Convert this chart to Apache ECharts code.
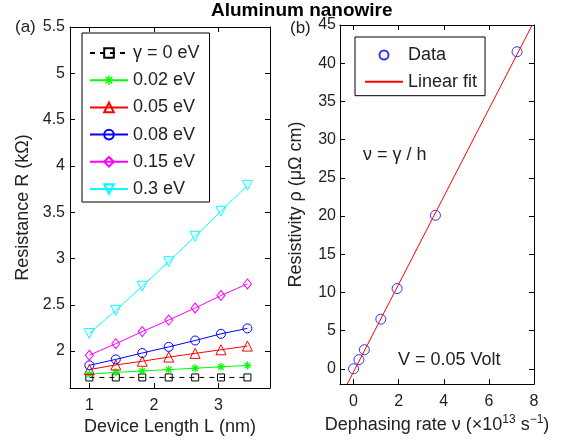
<!DOCTYPE html>
<html><head><meta charset="utf-8">
<script src="https://cdn.jsdelivr.net/npm/echarts@6/dist/echarts.min.js"></script>
<style>html,body{margin:0;padding:0;background:#fff}#c{width:572px;height:441px}</style>
</head><body><div id="c"></div>
<script>
// ---- Data (a) ----
const lengthL = [1.0, 1.41, 1.82, 2.23, 2.64, 3.04, 3.45];
const rGamma0 = [1.715, 1.715, 1.715, 1.715, 1.715, 1.715, 1.715];
const rGamma002 = [1.75, 1.77, 1.785, 1.80, 1.815, 1.83, 1.845];
const rGamma005 = [1.80, 1.85, 1.89, 1.935, 1.975, 2.014, 2.054];
const rGamma008 = [1.846, 1.91, 1.979, 2.045, 2.114, 2.186, 2.245];
const rGamma015 = [1.955, 2.08, 2.21, 2.335, 2.465, 2.60, 2.725];
const rGamma03 = [2.19, 2.44, 2.70, 2.965, 3.24, 3.51, 3.79];
const legendNamesA = ['\u03b3 = 0 eV', '0.02 eV', '0.05 eV', '0.08 eV', '0.15 eV', '0.3 eV'];
const xTicksA = [1, 2, 3];
const yTicksA = [2, 2.5, 3, 3.5, 4, 4.5, 5, 5.5];
// ---- Data (b) ----
const dephasingNu = [0, 0.24, 0.48, 1.21, 1.93, 3.63, 7.25];
const resistivity = [0, 1.2, 2.5, 6.5, 10.5, 20.1, 41.5];
const fitNu = [-0.28, 7.92];
const fitRho = [-2, 45];
const xTicksB = [0, 2, 4, 6, 8];
const yTicksB = [0, 5, 10, 15, 20, 25, 30, 35, 40, 45];

const FONT = 'Liberation Sans';
const TXT = '#222';
const asterisk = 'path://M8.5,0L11.5,0L11.5,20L8.5,20Z M0,8.5L20,8.5L20,11.5L0,11.5Z M3.99,1.87L18.13,16.01L16.01,18.13L1.87,3.99Z M16.01,1.87L18.13,3.99L3.99,18.13L1.87,16.01Z';

function pairs(xs, ys) { return xs.map((x, i) => [x, ys[i]]); }

function axisBase(extra) {
  return Object.assign({
    type: 'value',
    axisLine: { show: true, onZero: false, lineStyle: { color: '#000', width: 1 } },
    axisTick: { show: true, inside: true, length: 5, lineStyle: { color: '#000' } },
    splitLine: { show: false },
    axisLabel: { show: true, color: TXT, fontSize: 16, fontFamily: FONT }
  }, extra);
}

function lineSeries(name, ys, color, symbol, size, dashed, rotate) {
  const filled = symbol === asterisk;
  return {
    name: name, type: 'line', xAxisIndex: 0, yAxisIndex: 0,
    data: pairs(lengthL, ys),
    symbol: symbol, symbolSize: size, symbolRotate: rotate || 0,
    showAllSymbol: true,
    lineStyle: { color: color, width: 1, type: dashed ? [5, 5] : 'solid' },
    itemStyle: filled ? { color: color } : { color: 'rgba(0,0,0,0)', borderColor: color, borderWidth: 1 },
    emphasis: { disabled: true },
    animation: false
  };
}

const chart = echarts.init(document.getElementById('c'), null, { renderer: 'canvas' });
const option = {
  animation: false,
  textStyle: { fontFamily: FONT },
  grid: [
    { left: 70, top: 27, width: 200, height: 363 },
    { left: 340, top: 25, width: 194, height: 362 }
  ],
  xAxis: [
    axisBase({ gridIndex: 0, min: 0.7, max: 3.8, position: 'bottom',
      axisTick: { show: true, inside: true, length: 5, customValues: xTicksA, lineStyle: { color: '#000' } },
      axisLabel: { show: true, customValues: xTicksA, margin: 9, color: TXT, fontSize: 16, fontFamily: FONT },
      name: 'Device Length L (nm)', nameLocation: 'middle', nameGap: 26,
      nameTextStyle: { fontSize: 18, color: TXT, fontFamily: FONT } }),
    axisBase({ gridIndex: 0, min: 0.7, max: 3.8, position: 'top',
      axisTick: { show: true, inside: true, length: 5, customValues: xTicksA, lineStyle: { color: '#000' } },
      axisLabel: { show: false } }),
    axisBase({ gridIndex: 1, min: -0.6, max: 8, position: 'bottom',
      axisTick: { show: true, inside: true, length: 5, customValues: xTicksB, lineStyle: { color: '#000' } },
      axisLabel: { show: true, customValues: xTicksB, margin: 9, color: TXT, fontSize: 16, fontFamily: FONT },
      name: 'Dephasing rate \u03bd (\u00d710{sup|13} s{sup|\u22121})', nameLocation: 'middle', nameGap: 27,
      nameTextStyle: { fontSize: 18, color: TXT, fontFamily: FONT, lineHeight: 22,
        rich: { sup: { fontSize: 12, lineHeight: 12, verticalAlign: 'top', color: TXT, fontFamily: FONT } } } }),
    axisBase({ gridIndex: 1, min: -0.6, max: 8, position: 'top',
      axisTick: { show: true, inside: true, length: 5, customValues: xTicksB, lineStyle: { color: '#000' } },
      axisLabel: { show: false } })
  ],
  yAxis: [
    axisBase({ gridIndex: 0, min: 1.6, max: 5.5, position: 'left',
      axisTick: { show: true, inside: true, length: 5, customValues: yTicksA, lineStyle: { color: '#000' } },
      axisLabel: { show: true, customValues: yTicksA, margin: 5, color: TXT, fontSize: 16, fontFamily: FONT },
      name: 'Resistance R (k\u03a9)', nameLocation: 'middle', nameGap: 38, nameRotate: 90,
      nameTextStyle: { fontSize: 18, color: TXT, fontFamily: FONT } }),
    axisBase({ gridIndex: 0, min: 1.6, max: 5.5, position: 'right',
      axisTick: { show: true, inside: true, length: 5, customValues: yTicksA, lineStyle: { color: '#000' } },
      axisLabel: { show: false } }),
    axisBase({ gridIndex: 1, min: -2, max: 45, position: 'left',
      axisTick: { show: true, inside: true, length: 5, customValues: yTicksB, lineStyle: { color: '#000' } },
      axisLabel: { show: true, customValues: yTicksB, margin: 4, color: TXT, fontSize: 16, fontFamily: FONT },
      name: 'Resistivity \u03c1 (\u03bc\u03a9 cm)', nameLocation: 'middle', nameGap: 35, nameRotate: 90,
      nameTextStyle: { fontSize: 18, color: TXT, fontFamily: FONT } }),
    axisBase({ gridIndex: 1, min: -2, max: 45, position: 'right',
      axisTick: { show: true, inside: true, length: 5, customValues: yTicksB, lineStyle: { color: '#000' } },
      axisLabel: { show: false } })
  ],
  legend: [
    {
      data: legendNamesA, orient: 'vertical', left: 82, top: 33,
      padding: [10, 10, 3, 7], itemWidth: 38, itemHeight: 12, itemGap: 7.2,
      borderColor: '#000', borderWidth: 1, backgroundColor: '#fff',
      textStyle: { fontSize: 18, color: TXT, fontFamily: FONT, lineHeight: 20 },
      selectedMode: false
    },
    {
      data: ['Data', { name: 'Linear fit', itemStyle: { color: 'rgba(0,0,0,0)', borderWidth: 0 } }],
      orient: 'vertical', left: 355, top: 37,
      padding: [8, 8, 4, 9], itemWidth: 38, itemHeight: 9, itemGap: 6.7,
      borderColor: '#000', borderWidth: 1, backgroundColor: '#fff',
      textStyle: { fontSize: 18, color: TXT, fontFamily: FONT, lineHeight: 20 },
      selectedMode: false
    }
  ],
  series: [
    lineSeries(legendNamesA[0], rGamma0, '#000', 'rect', 7, true),
    lineSeries(legendNamesA[1], rGamma002, '#00ff00', asterisk, 8, false),
    lineSeries(legendNamesA[2], rGamma005, '#ff0000', 'triangle', 10, false),
    lineSeries(legendNamesA[3], rGamma008, '#0000ff', 'circle', 9, false),
    lineSeries(legendNamesA[4], rGamma015, '#ff00ff', 'diamond', [8, 10], false),
    lineSeries(legendNamesA[5], rGamma03, '#00ffff', 'triangle', 10, false, 180),
    {
      name: 'Linear fit', type: 'line', xAxisIndex: 2, yAxisIndex: 2,
      data: pairs(fitNu, fitRho), symbol: 'none', clip: true,
      lineStyle: { color: '#ff0000', width: 1 }, itemStyle: { color: '#ff0000' },
      emphasis: { disabled: true }
    },
    {
      name: 'Data', type: 'scatter', xAxisIndex: 2, yAxisIndex: 2,
      data: pairs(dephasingNu, resistivity), symbol: 'circle', symbolSize: 10,
      itemStyle: { color: 'rgba(0,0,0,0)', borderColor: '#0000ff', borderWidth: 1 },
      emphasis: { disabled: true }
    }
  ],
  graphic: [
    { type: 'text', x: 211, y: 11, style: { text: 'Aluminum nanowire', fontSize: 19, fontWeight: 'bold', fill: '#000', fontFamily: FONT, verticalAlign: 'middle' } },
    { type: 'text', x: 15, y: 27, style: { text: '(a)', fontSize: 17, fill: TXT, fontFamily: FONT, verticalAlign: 'middle' } },
    { type: 'text', x: 290, y: 28, style: { text: '(b)', fontSize: 17, fill: TXT, fontFamily: FONT, verticalAlign: 'middle' } },
    { type: 'text', x: 363, y: 155, style: { text: '\u03bd = \u03b3 / h', fontSize: 18, fill: TXT, fontFamily: FONT, verticalAlign: 'middle' } },
    { type: 'text', x: 398, y: 360, style: { text: 'V = 0.05 Volt', fontSize: 18, fill: TXT, fontFamily: FONT, verticalAlign: 'middle' } }
  ]
};
chart.setOption(option);
</script>
</body></html>
